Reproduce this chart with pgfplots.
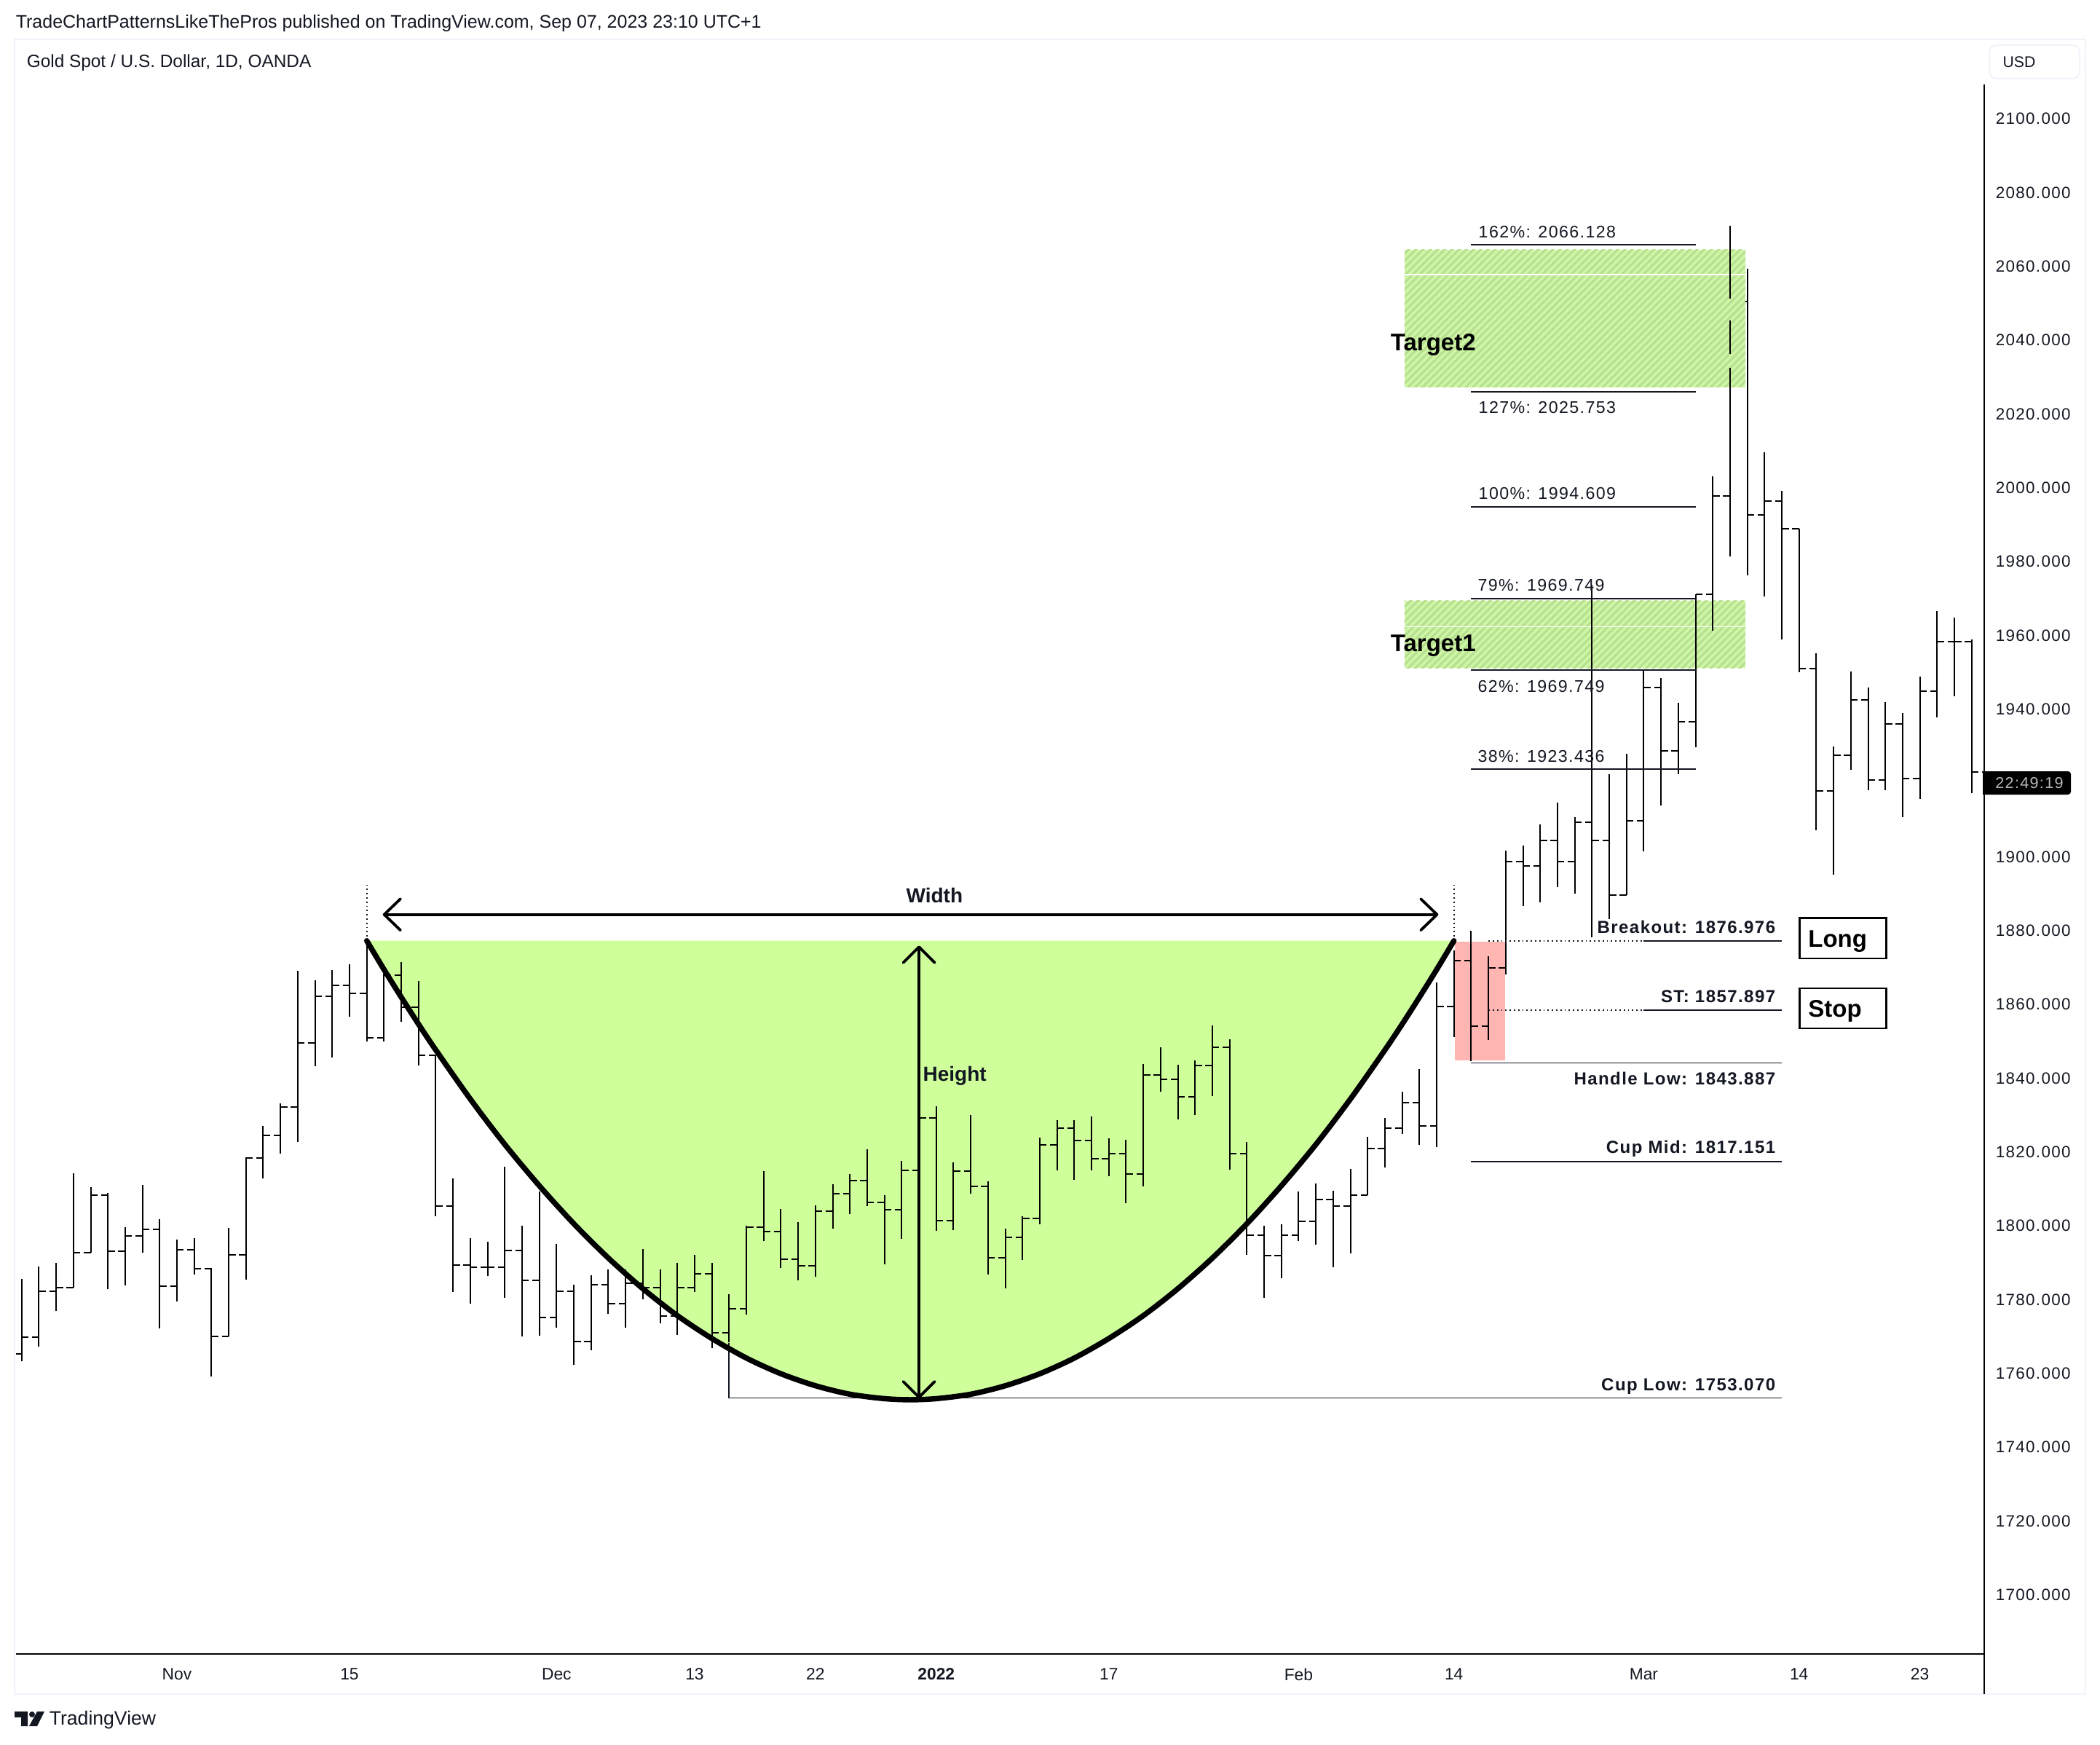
\documentclass[border=0pt]{standalone}
\usepackage{fontspec}
\usepackage{pgfplots}
\usepackage{pgfplotstable}
\pgfplotsset{compat=1.18}
\usetikzlibrary{patterns.meta,arrows.meta}
\setmainfont{Liberation Sans}
\newfontfamily\ls[LetterSpace=6]{Liberation Sans}
\definecolor{ink}{HTML}{131722}
\definecolor{frame}{HTML}{F0F3FA}
\definecolor{cupg}{HTML}{CEFF9B}
\definecolor{redb}{HTML}{FFB5B2}
\definecolor{tbase}{HTML}{CFF6A5}
\definecolor{tline}{HTML}{B7E092}
\pgfplotstableread{
n h l c
0 1785.43 1762.96 1769.66
1 1788.78 1766.93 1782.08
2 1789.75 1776.62 1783.05
3 1813.89 1783.05 1792.48
4 1810.19 1792.48 1807.99
5 1808.6 1782.52 1792.92
6 1799.44 1783.5 1797.06
7 1810.9 1792.4 1798.83
8 1801.47 1771.86 1783.41
9 1796.1 1779.2 1793.27
10 1796.5 1786.6 1788.2
11 1788.34 1758.9 1769.84
12 1799.1 1769.84 1791.95
13 1818.3 1785.1 1818.2
14 1826.9 1812.5 1824.3
15 1832.9 1819.4 1832
16 1868.9 1822.4 1849.4
17 1866.3 1842.9 1862
18 1869.05 1845.3 1865
19 1870.7 1856.4 1862.7
20 1877.3 1849.7 1850.7
21 1868.1 1849.7 1867.6
22 1871.25 1855.1 1858.9
23 1866.1 1843.1 1846.05
24 1846.05 1802.3 1805
25 1812.6 1781.9 1789.1
26 1796.5 1778.6 1788.6
27 1795.4 1786.05 1788.6
28 1815.8 1780.3 1793.1
29 1799.8 1769.7 1785
30 1809 1770 1774.8
31 1794.9 1772.2 1782.1
32 1783.8 1762.1 1768.4
33 1786.4 1766.1 1783.8
34 1787.9 1775.8 1778.6
35 1787.9 1772.2 1784.2
36 1793.5 1779.8 1782.9
37 1787.9 1773.3 1775.3
38 1789.75 1770.1 1783.05
39 1791.9 1781.9 1786.8
40 1789.75 1766.6 1770.7
41 1781.3 1768.1 1777.3
42 1799.8 1775.65 1799.3
43 1814.6 1795.7 1798.2
44 1804.4 1788.4 1790.7
45 1800.7 1784.9 1789
46 1805.3 1785.9 1803.8
47 1811 1798.9 1808.4
48 1813.7 1803 1812
49 1820.4 1805 1806.1
50 1808 1789.4 1804.2
51 1817.3 1796.2 1814.8
52 1829.8 1800.7 1828.9
53 1832.1 1798.3 1801.2
54 1817 1798.5 1814.6
55 1829.8 1808.4 1810.5
56 1811.8 1786.6 1791
57 1798.9 1782.7 1796.6
58 1802.4 1790.5 1801.8
59 1823.6 1800.1 1821.7
60 1828.3 1814.7 1826.3
61 1828.3 1812.3 1822.9
62 1829.3 1814.7 1818
63 1823.4 1813.2 1819.4
64 1823 1805.8 1813.8
65 1843.5 1810.4 1840.7
66 1848.1 1836 1839.5
67 1843.3 1828.5 1834.8
68 1844.6 1829.7 1843.2
69 1854.1 1834.9 1848.2
70 1850.3 1814.9 1819.4
71 1822.4 1791.8 1797.2
72 1799.8 1780.3 1791.7
73 1800.2 1785.5 1797.3
74 1809 1795.7 1801
75 1811.2 1794.6 1806.9
76 1809.3 1788.6 1805
77 1815.1 1792.2 1808.1
78 1823.8 1808.1 1820.6
79 1829 1815.5 1826.2
80 1836 1824.6 1833.2
81 1842.2 1821.6 1826.9
82 1865.6 1821 1859.1
83 1874.4 1850.8 1871.7
84 1879.7 1844.4 1853.8
85 1872.8 1850.2 1869.6
86 1901.5 1867.8 1898.4
87 1902.8 1886.5 1897.3
88 1908.6 1887.5 1904.1
89 1914.5 1891.5 1898.5
90 1910.6 1889.7 1909.1
91 1973.4 1878 1904.1
92 1922.2 1882.9 1889.4
93 1927.6 1889.4 1909.6
94 1950.6 1901.3 1945.7
95 1948.2 1913.6 1928.5
96 1941.5 1922.2 1936.4
97 1971 1929.5 1971
98 2002.8 1961 1997.6
99 2070.7 2051.1 2050.2
100 2059.2 1976.1 1992.4
101 2009.3 1970.4 1996.2
102 1999 1958.6 1988.6
103 1988.6 1949.8 1950.7
104 1955 1907 1917.7
105 1929.7 1895 1927.3
106 1949.9 1923.3 1942.3
107 1945.6 1917.9 1920.6
108 1941.7 1917.9 1935.8
109 1938.7 1910.6 1921
110 1948.6 1915.5 1944.7
111 1966.3 1937.5 1958
112 1964.5 1943.2 1958.1
113 1958.6 1917 1922.8
}\bars
\pgfplotstableread{
n v
20 1877
21 1869.2
22 1861.7
23 1854.4
24 1847.4
26 1834.1
28 1821.8
30 1810.6
32 1800.3
34 1791
36 1782.7
38 1775.4
40 1769.2
42 1763.9
44 1759.65
46 1756.4
48 1754.1
50 1752.9
51.5 1752.6
53 1752.9
55 1754.1
57 1756.4
59 1759.65
61 1763.9
63 1769.2
65 1775.4
67 1782.7
69 1791
71 1800.3
73 1810.6
75 1821.8
77 1834.1
79 1847.4
80 1854.4
81 1861.7
82 1869.2
83 1877
}\cupcurve
\tikzset{
 bar/.style={line width=.5pt,black},
 eb/.style={draw=black,line width=.5pt},
 lv/.style={line width=.45pt,ink},
 reg/.style={font=\ls\fontsize{5.8pt}{7pt}\selectfont,text=ink,inner sep=0pt,yshift=-.35pt},
 bld/.style={font=\ls\bfseries\fontsize{6pt}{7pt}\selectfont,text=ink,inner sep=0pt,yshift=-.45pt},
 bh/.style={font=\bfseries\fontsize{7pt}{8pt}\selectfont,text=ink,inner sep=0pt},
 big/.style={font=\bfseries\fontsize{8.25pt}{9pt}\selectfont,text=black,inner sep=0pt},
 tgt/.style={pattern={Lines[angle=45,distance=1.75pt,line width=.8pt]},pattern color=tline}
}
\begin{document}
\begin{tikzpicture}
\path (0,0) rectangle (721pt,-599pt);
\begin{axis}[
 at={(5.5pt,-567.75pt)},anchor=south west,scale only axis,
 width=675.75pt,height=538.75pt,
 xmin=-0.325,xmax=113.73,ymin=1683.7,ymax=2109.08,
 axis x line=bottom,axis y line=right,
 axis line style={-,line width=.55pt,black},
 major tick length=0pt,tick style={draw=none},minor tick num=0,
 ytick={1700,1720,1740,1760,1780,1800,1820,1840,1860,1880,1900,1940,1960,1980,2000,2020,2040,2060,2080,2100},
 xtick={9,19,31,39,46,53,63,74,83,94,103,110},
 xticklabels={Nov,15,Dec,13,22,\textbf{2022},17,Feb,14,Mar,14,23},
 tick label style={/pgf/number format/assume math mode=true},
 yticklabel style={font=\ls\fontsize{5.6pt}{7pt}\selectfont,text=ink,
  /pgf/number format/fixed,/pgf/number format/fixed zerofill,
  /pgf/number format/precision=3,/pgf/number format/1000 sep={},
  anchor=west,xshift=0.4pt,yshift=-.3pt},
 xticklabel style={font=\fontsize{5.7pt}{7pt}\selectfont,text=ink,anchor=center,yshift=-7pt},
 clip=true,
]
% cup
\addplot[fill=cupg,draw=none,forget plot] table[x=n,y=v]{\cupcurve} -- cycle;
% stop box
\fill[redb] (axis cs:83.05,1876.75) rectangle (axis cs:85.95,1844.5);
% ticks
\addplot[draw=none,no markers,forget plot,error bars/.cd,x dir=plus,x fixed=0.4,error mark=none,error bar style={eb}] table[x=n,y=c]{\bars};
\addplot[draw=none,no markers,forget plot,error bars/.cd,x dir=minus,x fixed=0.4,error mark=none,error bar style={eb}] table[x expr=\thisrow{n}+1,y=c]{\bars};
\addplot[draw=none,no markers,forget plot,error bars/.cd,x dir=minus,x fixed=0.4,error mark=none,error bar style={eb}] coordinates {(0,1765)};
% targets
\fill[tbase] (axis cs:80.14,2064.3) rectangle (axis cs:99.89,2027);
\fill[tgt] (axis cs:80.14,2064.3) rectangle (axis cs:99.89,2027);
\fill[tbase] (axis cs:80.14,1969.2) rectangle (axis cs:99.89,1950.9);
\fill[tgt] (axis cs:80.14,1969.2) rectangle (axis cs:99.89,1950.9);
\draw[white,line width=.4pt] (axis cs:80.14,2057.6) -- (axis cs:99.89,2057.6);
\draw[white,line width=.25pt] (axis cs:80.14,1962.2) -- (axis cs:99.89,1962.2);
% wicks
\addplot[draw=none,no markers,forget plot,error bars/.cd,y dir=plus,y explicit,error mark=none,error bar style={eb}] table[x=n,y=l,y error plus expr=\thisrow{h}-\thisrow{l}]{\bars};
\addplot[bar,forget plot] coordinates {(99,2045.2)(99,2036.1)};
\addplot[bar,forget plot] coordinates {(99,2032.2)(99,1981.1)};
% fib lines
\addplot[lv,forget plot] coordinates {(84,2065.6)(97,2065.6)};
\addplot[lv,forget plot] coordinates {(84,2025.8)(97,2025.8)};
\addplot[lv,forget plot] coordinates {(84,1994.6)(97,1994.6)};
\addplot[lv,line width=.55pt,forget plot] coordinates {(84,1969.75)(97,1969.75)};
\addplot[lv,line width=.55pt,forget plot] coordinates {(84,1950.4)(97,1950.4)};
\addplot[lv,forget plot] coordinates {(84,1923.5)(97,1923.5)};
% level lines
\addplot[lv,densely dotted,forget plot] coordinates {(85,1876.9)(94,1876.9)};
\addplot[lv,forget plot] coordinates {(94,1877)(102,1877)};
\addplot[lv,densely dotted,forget plot] coordinates {(85,1858.2)(94,1858.2)};
\addplot[lv,forget plot] coordinates {(94,1858.2)(102,1858.2)};
\addplot[lv,forget plot] coordinates {(84,1843.9)(102,1843.9)};
\addplot[lv,forget plot] coordinates {(84,1817.2)(102,1817.2)};
\addplot[lv,forget plot] coordinates {(41,1768)(41,1753.07)(102,1753.07)};
% dotted verticals
\addplot[lv,densely dotted,forget plot] coordinates {(20,1877)(20,1892.4)};
\addplot[lv,densely dotted,forget plot] coordinates {(83,1877)(83,1892.4)};
% cup outline
\addplot[black,line width=1.85pt,line cap=round,line join=round,smooth,forget plot] table[x=n,y=v]{\cupcurve};
% arrows
\addplot[black,line width=.95pt,{Straight Barb[length=5.6pt,width=10.8pt,round]}-{Straight Barb[length=5.6pt,width=10.8pt,round]},forget plot] coordinates {(20.93,1884.1)(82.1,1884.1)};
\addplot[black,line width=.95pt,{Straight Barb[length=5.4pt,width=10.8pt,round]}-{Straight Barb[length=5.4pt,width=10.8pt,round]},forget plot] coordinates {(52,1875.7)(52,1752.9)};
% labels
\node[bh,anchor=center] at (axis cs:52.9,1889.2) {Width};
\node[bh,anchor=west] at (axis cs:52.2,1840.4) {Height};
\node[reg,anchor=west] at (axis cs:84.4,2069.3) {162\%: 2066.128};
\node[reg,anchor=west] at (axis cs:84.4,2021.8) {127\%: 2025.753};
\node[reg,anchor=west] at (axis cs:84.4,1998.5) {100\%: 1994.609};
\node[reg,anchor=west] at (axis cs:84.35,1973.7) {79\%: 1969.749};
\node[reg,anchor=west] at (axis cs:84.35,1946.2) {62\%: 1969.749};
\node[reg,anchor=west] at (axis cs:84.35,1927.2) {38\%: 1923.436};
\node[bld,anchor=east] at (axis cs:101.66,1881) {Breakout: 1876.976};
\node[bld,anchor=east] at (axis cs:101.66,1862.2) {ST: 1857.897};
\node[bld,anchor=east] at (axis cs:101.66,1840.1) {Handle Low: 1843.887};
\node[bld,anchor=east] at (axis cs:101.66,1821) {Cup Mid: 1817.151};
\node[bld,anchor=east] at (axis cs:101.66,1756.6) {Cup Low: 1753.070};
\node[big,anchor=west] at (axis cs:79.3,2038.5) {Target2};
\node[big,anchor=west] at (axis cs:79.3,1956.9) {Target1};
\draw[black,line width=.6pt,fill=white] (axis cs:103.03,1883.2) rectangle (axis cs:108.06,1872.2);
\draw[black,line width=.6pt,fill=white] (axis cs:103.03,1864.1) rectangle (axis cs:108.06,1853.3);
\node[big,anchor=west] at (axis cs:103.5,1876.9) {Long};
\node[big,anchor=west] at (axis cs:103.5,1857.9) {Stop};
\end{axis}
\begin{scope}[x=0.25pt,y=-0.25pt]
\draw[frame,line width=.6pt] (20,54) rectangle (2864,2326);
\draw[black,line width=.55pt] (2725,2271) -- (2725,2326);
\draw[frame,line width=.5pt,rounded corners=2.5pt] (2732,62) rectangle (2856,108);
\node[anchor=center,inner sep=0pt,text=ink,font=\fontsize{5.3pt}{7pt}\selectfont] at (2773,85) {USD};
\fill[black,rounded corners=1pt] (2723,1059) rectangle (2844,1091);
\fill[black] (2723,1059) rectangle (2735,1091);
\node[anchor=center,inner sep=0pt,text=black!28,font=\ls\fontsize{5.4pt}{7pt}\selectfont] at (2787,1075) {22:49:19};
\node[anchor=west,inner sep=0pt,text=ink,font=\fontsize{6.25pt}{7pt}\selectfont] at (21,32) {TradeChartPatternsLikeThePros published on TradingView.com, Sep 07, 2023 23:10 UTC+1};
\node[anchor=west,inner sep=0pt,text=ink,font=\fontsize{6.1pt}{7pt}\selectfont] at (36,86) {Gold Spot / U.S. Dollar, 1D, OANDA};
\fill[ink] (20,2350) -- (38,2350) -- (38,2370) -- (29,2370) -- (29,2358) -- (20,2358) -- cycle;
\fill[ink] (44,2354) circle (4);
\fill[ink] (51,2350) -- (61,2350) -- (51,2370) -- (40,2370) -- cycle;
\node[anchor=west,inner sep=0pt,text=ink,font=\fontsize{6.65pt}{8pt}\selectfont] at (67,2362) {TradingView};
\end{scope}
\end{tikzpicture}
\end{document}
